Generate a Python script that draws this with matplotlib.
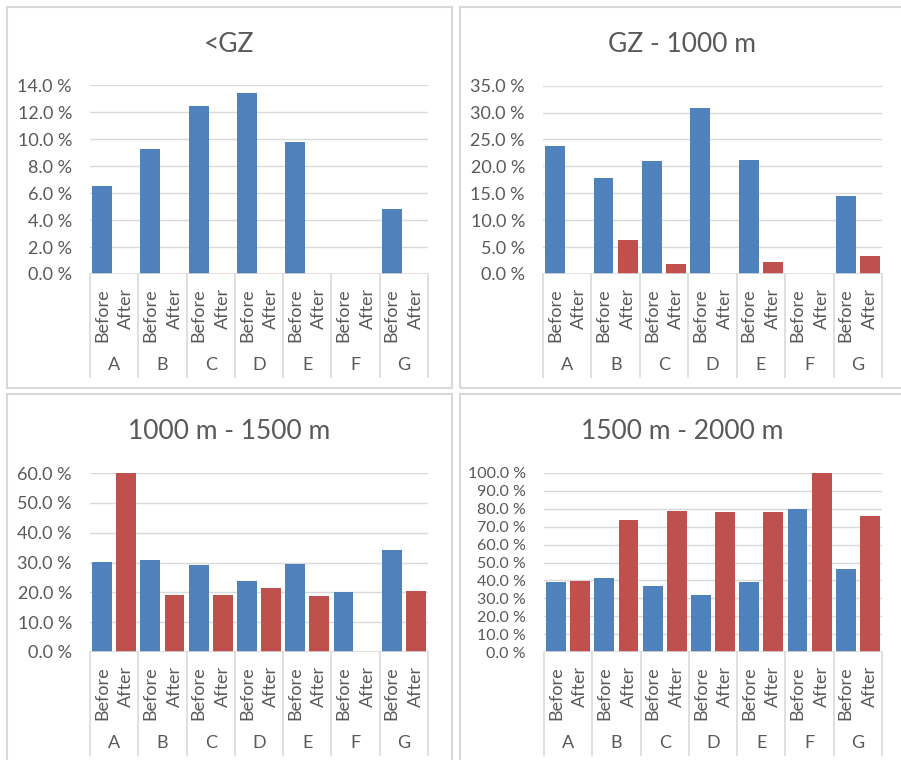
import numpy as np
import matplotlib
matplotlib.use("Agg")
import matplotlib.pyplot as plt
from matplotlib.patches import Rectangle
from matplotlib.ticker import FuncFormatter
from matplotlib.transforms import blended_transform_factory

plt.rcParams['font.family'] = ['Lato', 'DejaVu Sans']

groups = ['A', 'B', 'C', 'D', 'E', 'F', 'G']
phases = ['Before', 'After']

# share of events (%) per zone, before / after
before_lt_gz = [6.5, 9.3, 12.45, 13.4, 9.8, 0.0, 4.8]
after_lt_gz = [0.0, 0.0, 0.0, 0.0, 0.0, 0.0, 0.0]

before_gz_1000 = [23.75, 17.9, 21.0, 30.8, 21.15, 0.0, 14.5]
after_gz_1000 = [0.0, 6.3, 1.9, 0.0, 2.2, 0.0, 3.3]

before_1000_1500 = [30.3, 30.9, 29.2, 23.75, 29.55, 20.0, 34.1]
after_1000_1500 = [60.0, 19.2, 19.2, 21.5, 18.85, 0.0, 20.5]

before_1500_2000 = [39.0, 41.4, 37.0, 31.6, 39.0, 80.0, 46.3]
after_1500_2000 = [39.8, 73.8, 78.8, 78.3, 78.3, 100.0, 76.0]

BLUE = '#4F81BD'
RED = '#C0504D'
GRID = '#D9D9D9'
TXT = '#595959'

W, H = 901, 760
fig = plt.figure(figsize=(W / 100, H / 100), dpi=100)


def draw_panel(frame, plot, bottom, title, title_xy, before, after, ymax, step,
               tick_size=13):
    # chart frame (pixel coords, y from top)
    fx0, fy0, fx1, fy1 = frame
    fig.patches.append(Rectangle((fx0 / W, 1 - fy1 / H), (fx1 - fx0) / W, (fy1 - fy0) / H,
                                 transform=fig.transFigure, fill=False,
                                 ec=GRID, lw=1.5))
    fig.text(title_xy[0] / W, 1 - title_xy[1] / H, title, ha='center', va='center',
             fontsize=19, color=TXT)

    x0, y0, x1, y1 = plot
    ax = fig.add_axes([x0 / W, 1 - y1 / H, (x1 - x0) / W, (y1 - y0) / H])
    ax.set_facecolor('none')
    n = len(groups)
    pos = np.arange(n) * 2
    ax.bar(pos, before, width=0.82, color=BLUE, zorder=2)
    ax.bar(pos + 1, after, width=0.82, color=RED, zorder=2)

    ax.set_xlim(-0.5, 2 * n - 0.5)
    ax.set_ylim(0, ymax)
    ax.set_yticks(np.arange(0, ymax + step / 2, step))
    ax.yaxis.set_major_formatter(FuncFormatter(lambda v, _: f'{v:.1f} %'))
    ax.tick_params(axis='y', length=0, pad=13, labelsize=tick_size, labelcolor=TXT)
    ax.set_xticks([])
    ax.grid(axis='y', color=GRID, lw=1, zorder=0)
    for s in ax.spines.values():
        s.set_visible(False)
    ax.axhline(0, color=GRID, lw=1.2, zorder=3)

    # two-level category axis drawn below the plot
    h = y1 - y0
    trans = blended_transform_factory(ax.transData, ax.transAxes)
    depth = (bottom - y1) / h
    for k in range(n + 1):
        ax.plot([2 * k - 0.5] * 2, [0, -depth], transform=trans, clip_on=False,
                color=GRID, lw=1.2)
    for i, g in enumerate(groups):
        for j, p in enumerate(phases):
            ax.text(2 * i + j, -14 / h, p, rotation=90, ha='center', va='top',
                    transform=trans, fontsize=13, color=TXT)
        ax.text(2 * i + 0.5, -91 / h, g, ha='center', va='center',
                transform=trans, fontsize=13, color=TXT)
    return ax


draw_panel((7, 7, 452, 388), (90, 85.3, 428, 274), 377, '<GZ', (229, 44),
           before_lt_gz, after_lt_gz, 14, 2)
draw_panel((460, 7, 910, 388), (543, 85.7, 882, 274), 377, 'GZ - 1000 m', (682, 44),
           before_gz_1000, after_gz_1000, 35, 5)
draw_panel((7, 394, 452, 770), (90, 473, 428, 652), 755, '1000 m - 1500 m', (229, 431),
           before_1000_1500, after_1000_1500, 60, 10)
draw_panel((460, 394, 910, 770), (544, 473, 882, 652), 755, '1500 m - 2000 m', (682, 431),
           before_1500_2000, after_1500_2000, 100, 10, tick_size=11.5)

fig.savefig('out.png', dpi=100, facecolor='white')
